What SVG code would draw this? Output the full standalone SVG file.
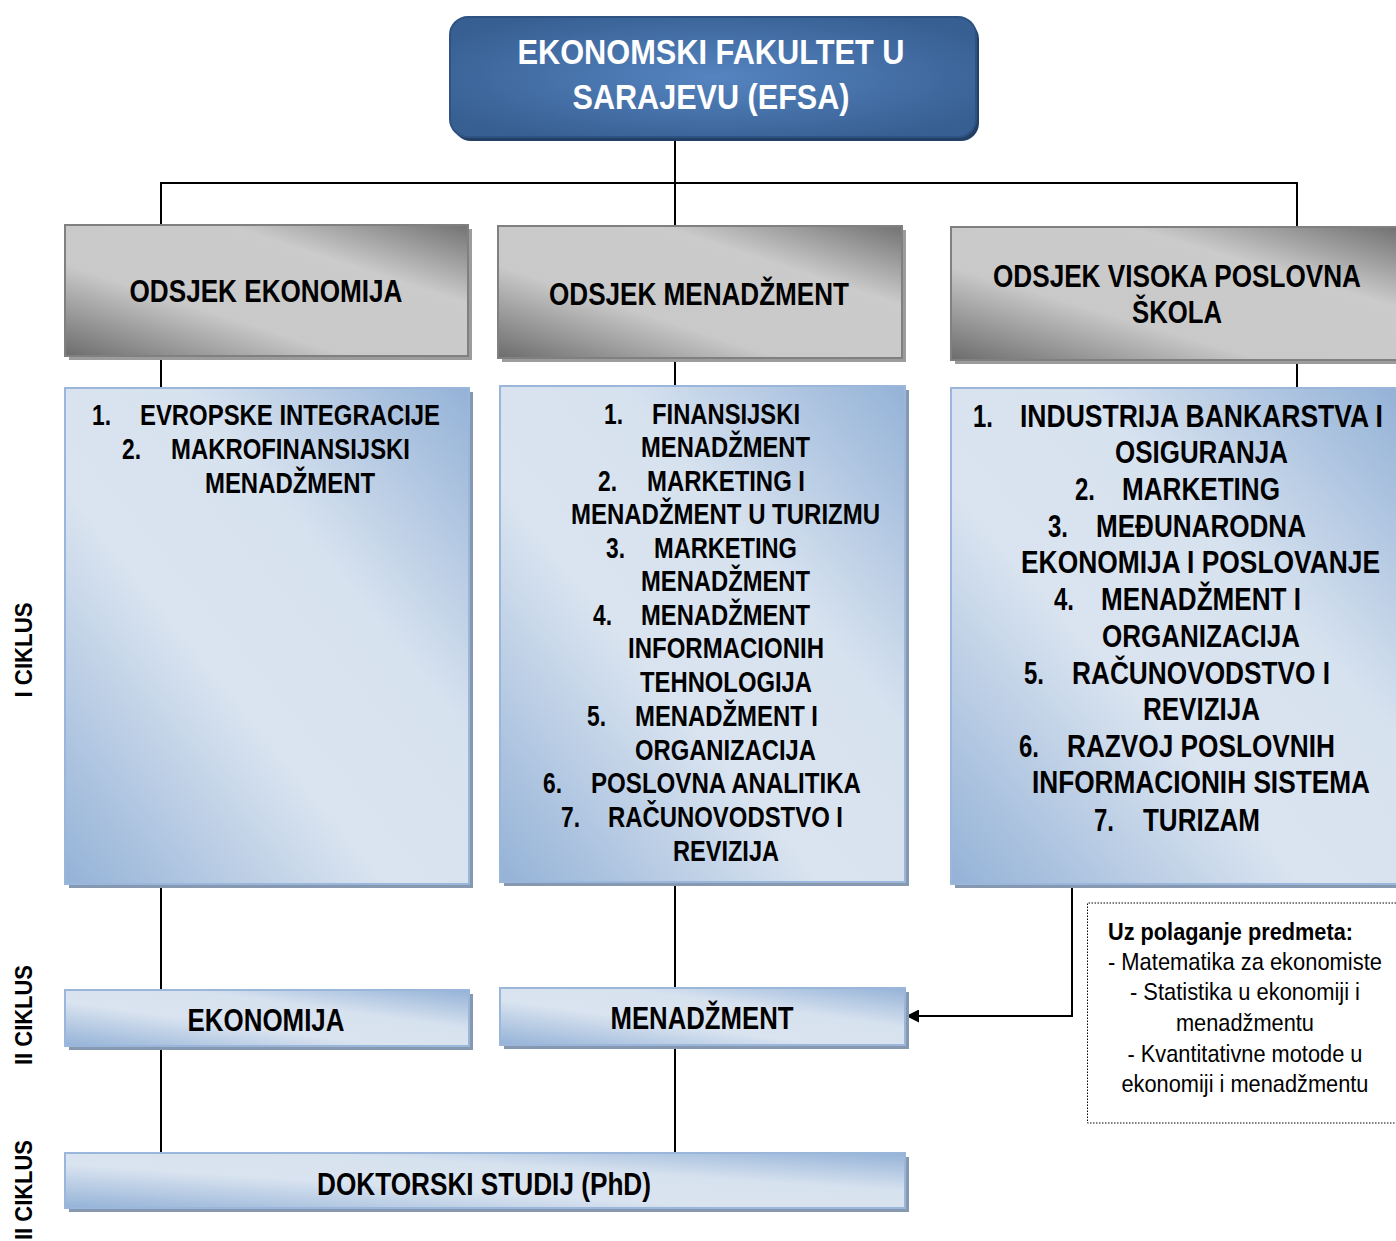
<svg xmlns="http://www.w3.org/2000/svg" width="1396" height="1241" viewBox="0 0 1396 1241">
<style>
.t{font-family:"Liberation Sans",Arial,sans-serif;font-weight:bold;fill:#000}
.w{fill:#fff}
.r{font-family:"Liberation Sans",Arial,sans-serif;font-weight:normal;fill:#000}
.gray{fill:url(#grayGrad);stroke:#808080;stroke-width:2}
.gsh{fill:#9c9c9c}
.blue{fill:url(#blueGrad);stroke:#9ab6da;stroke-width:2}
.bsh{fill:#8799b0}
.conn{stroke:#000;stroke-width:2;fill:none}
</style>
<defs>
<linearGradient id="grayGrad" x1="0" y1="1" x2="1" y2="0">
<stop offset="0" stop-color="#6c6c6c"/>
<stop offset="0.35" stop-color="#c9c9c9"/>
<stop offset="0.7" stop-color="#cbcbcb"/>
<stop offset="1" stop-color="#727272"/>
</linearGradient>
<linearGradient id="blueGrad" x1="0" y1="1" x2="1" y2="0">
<stop offset="0" stop-color="#94b2d7"/>
<stop offset="0.4" stop-color="#dae4f0"/>
<stop offset="0.65" stop-color="#d7e2ef"/>
<stop offset="1" stop-color="#94b2d7"/>
</linearGradient>
<radialGradient id="topGrad" cx="0.5" cy="0.5" r="0.6">
<stop offset="0" stop-color="#5584c0"/>
<stop offset="1" stop-color="#375f92"/>
</radialGradient>
<marker id="arr" viewBox="0 0 10 10" refX="10" refY="5" markerWidth="15" markerHeight="13" orient="auto" markerUnits="userSpaceOnUse">
<path d="M0,0 L10,5 L0,10 z" fill="#000"/>
</marker>
</defs>

<g id="connectors">
<line class="conn" x1="675" y1="137" x2="675" y2="183"/>
<line class="conn" x1="160" y1="183" x2="1298" y2="183"/>
<line class="conn" x1="161" y1="182" x2="161" y2="226"/>
<line class="conn" x1="675" y1="182" x2="675" y2="227"/>
<line class="conn" x1="1297" y1="182" x2="1297" y2="228"/>
<line class="conn" x1="161" y1="356" x2="161" y2="388"/>
<line class="conn" x1="675" y1="358" x2="675" y2="386"/>
<line class="conn" x1="1297" y1="360" x2="1297" y2="388"/>
<line class="conn" x1="161" y1="884" x2="161" y2="990"/>
<line class="conn" x1="675" y1="882" x2="675" y2="988"/>
<line class="conn" x1="161" y1="1046" x2="161" y2="1153"/>
<line class="conn" x1="675" y1="1045" x2="675" y2="1153"/>
<path class="conn" d="M1072,886 L1072,1016 L906,1016" marker-end="url(#arr)"/>
</g>

<g id="efsa">
<rect x="453" y="21" width="526" height="120" rx="18" fill="#233f66"/>
<rect x="450" y="17" width="526" height="120" rx="18" fill="url(#topGrad)" stroke="#2e5382" stroke-width="2"/>
<text class="t w" x="711" y="64" font-size="35" text-anchor="middle" textLength="387" lengthAdjust="spacingAndGlyphs">EKONOMSKI FAKULTET U</text>
<text class="t w" x="711" y="109" font-size="35" text-anchor="middle" textLength="277" lengthAdjust="spacingAndGlyphs">SARAJEVU (EFSA)</text>
</g>

<g id="odsjek-ekonomija">
<rect class="gsh" x="69" y="229" width="403" height="131"/>
<rect class="gray" x="65" y="225" width="403" height="131"/>
<text class="t" x="266" y="302" font-size="31" text-anchor="middle" textLength="273" lengthAdjust="spacingAndGlyphs">ODSJEK EKONOMIJA</text>
</g>

<g id="odsjek-menadzment">
<rect class="gsh" x="502" y="230" width="404" height="132"/>
<rect class="gray" x="498" y="226" width="404" height="132"/>
<text class="t" x="699" y="305" font-size="31" text-anchor="middle" textLength="300" lengthAdjust="spacingAndGlyphs">ODSJEK MENADŽMENT</text>
</g>

<g id="odsjek-vps">
<rect class="gsh" x="955" y="231" width="441" height="133"/>
<rect x="951" y="227" width="445" height="133" fill="url(#grayGrad)"/>
<path d="M1396,227 L951,227 L951,360 L1396,360" fill="none" stroke="#808080" stroke-width="2"/>
<g transform="scale(0.85,1)" class="t" font-size="31" text-anchor="middle">
<text x="1384.7" y="287" textLength="432.9" lengthAdjust="spacingAndGlyphs">ODSJEK VISOKA POSLOVNA</text>
<text x="1384.7" y="323" textLength="105.9" lengthAdjust="spacingAndGlyphs">ŠKOLA</text>
</g>
</g>

<g id="programi-ekonomija">
<rect class="bsh" x="69" y="392" width="404" height="496"/>
<rect class="blue" x="65" y="388" width="404" height="496"/>
<g class="t" font-size="29">
<text x="92" y="425" textLength="19" lengthAdjust="spacingAndGlyphs">1.</text>
<text x="140" y="425" textLength="300" lengthAdjust="spacingAndGlyphs">EVROPSKE INTEGRACIJE</text>
<text x="122" y="459" textLength="19" lengthAdjust="spacingAndGlyphs">2.</text>
<text x="171" y="459" textLength="239" lengthAdjust="spacingAndGlyphs">MAKROFINANSIJSKI</text>
<text x="205" y="493" textLength="170" lengthAdjust="spacingAndGlyphs">MENADŽMENT</text>
</g>
</g>

<g id="programi-menadzment">
<rect class="bsh" x="504" y="390" width="405" height="496"/>
<rect class="blue" x="500" y="386" width="405" height="496"/>
<g class="t" font-size="29">
<text x="604" y="424" textLength="19" lengthAdjust="spacingAndGlyphs">1.</text>
<text x="652" y="424" textLength="148" lengthAdjust="spacingAndGlyphs">FINANSIJSKI</text>
<text x="641" y="457" textLength="169" lengthAdjust="spacingAndGlyphs">MENADŽMENT</text>
<text x="598" y="491" textLength="19" lengthAdjust="spacingAndGlyphs">2.</text>
<text x="647" y="491" textLength="158" lengthAdjust="spacingAndGlyphs">MARKETING I</text>
<text x="571" y="524" textLength="309" lengthAdjust="spacingAndGlyphs">MENADŽMENT U TURIZMU</text>
<text x="606" y="558" textLength="19" lengthAdjust="spacingAndGlyphs">3.</text>
<text x="654" y="558" textLength="143" lengthAdjust="spacingAndGlyphs">MARKETING</text>
<text x="641" y="591" textLength="169" lengthAdjust="spacingAndGlyphs">MENADŽMENT</text>
<text x="593" y="625" textLength="19" lengthAdjust="spacingAndGlyphs">4.</text>
<text x="641" y="625" textLength="169" lengthAdjust="spacingAndGlyphs">MENADŽMENT</text>
<text x="628" y="658" textLength="196" lengthAdjust="spacingAndGlyphs">INFORMACIONIH</text>
<text x="640" y="692" textLength="172" lengthAdjust="spacingAndGlyphs">TEHNOLOGIJA</text>
<text x="587" y="726" textLength="19" lengthAdjust="spacingAndGlyphs">5.</text>
<text x="635" y="726" textLength="183" lengthAdjust="spacingAndGlyphs">MENADŽMENT I</text>
<text x="635" y="760" textLength="181" lengthAdjust="spacingAndGlyphs">ORGANIZACIJA</text>
<text x="543" y="793" textLength="19" lengthAdjust="spacingAndGlyphs">6.</text>
<text x="591" y="793" textLength="270" lengthAdjust="spacingAndGlyphs">POSLOVNA ANALITIKA</text>
<text x="561" y="827" textLength="19" lengthAdjust="spacingAndGlyphs">7.</text>
<text x="608" y="827" textLength="235" lengthAdjust="spacingAndGlyphs">RAČUNOVODSTVO I</text>
<text x="673" y="861" textLength="106" lengthAdjust="spacingAndGlyphs">REVIZIJA</text>
</g>
</g>

<g id="programi-vps">
<rect class="bsh" x="955" y="392" width="441" height="496"/>
<rect x="951" y="388" width="445" height="496" fill="url(#blueGrad)"/>
<path d="M1396,388 L951,388 L951,884 L1396,884" fill="none" stroke="#9ab6da" stroke-width="2"/>
<g class="t" font-size="31" transform="scale(0.85,1)">
<text x="1144.7" y="427" textLength="23.5" lengthAdjust="spacingAndGlyphs">1.</text>
<text x="1200" y="427" textLength="427" lengthAdjust="spacingAndGlyphs">INDUSTRIJA BANKARSTVA I</text>
<text x="1311.8" y="463" textLength="203.5" lengthAdjust="spacingAndGlyphs">OSIGURANJA</text>
<text x="1264.7" y="500" textLength="23.5" lengthAdjust="spacingAndGlyphs">2.</text>
<text x="1320" y="500" textLength="185.9" lengthAdjust="spacingAndGlyphs">MARKETING</text>
<text x="1232.9" y="537" textLength="23.5" lengthAdjust="spacingAndGlyphs">3.</text>
<text x="1289.4" y="537" textLength="247.1" lengthAdjust="spacingAndGlyphs">MEĐUNARODNA</text>
<text x="1201.2" y="573" textLength="422.4" lengthAdjust="spacingAndGlyphs">EKONOMIJA I POSLOVANJE</text>
<text x="1240" y="610" textLength="23.5" lengthAdjust="spacingAndGlyphs">4.</text>
<text x="1295.3" y="610" textLength="235.3" lengthAdjust="spacingAndGlyphs">MENADŽMENT I</text>
<text x="1296.5" y="647" textLength="232.9" lengthAdjust="spacingAndGlyphs">ORGANIZACIJA</text>
<text x="1204.7" y="684" textLength="23.5" lengthAdjust="spacingAndGlyphs">5.</text>
<text x="1261.2" y="684" textLength="303.5" lengthAdjust="spacingAndGlyphs">RAČUNOVODSTVO I</text>
<text x="1344.7" y="720" textLength="137.6" lengthAdjust="spacingAndGlyphs">REVIZIJA</text>
<text x="1198.8" y="757" textLength="23.5" lengthAdjust="spacingAndGlyphs">6.</text>
<text x="1255.3" y="757" textLength="315.3" lengthAdjust="spacingAndGlyphs">RAZVOJ POSLOVNIH</text>
<text x="1214.1" y="793" textLength="397.6" lengthAdjust="spacingAndGlyphs">INFORMACIONIH SISTEMA</text>
<text x="1287.1" y="831" textLength="23.5" lengthAdjust="spacingAndGlyphs">7.</text>
<text x="1344.7" y="831" textLength="137.6" lengthAdjust="spacingAndGlyphs">TURIZAM</text>
</g>
</g>

<g id="ii-ekonomija">
<rect class="bsh" x="69" y="994" width="404" height="56"/>
<rect class="blue" x="65" y="990" width="404" height="56"/>
<text class="t" x="266" y="1031" font-size="31" text-anchor="middle" textLength="157" lengthAdjust="spacingAndGlyphs">EKONOMIJA</text>
</g>

<g id="ii-menadzment">
<rect class="bsh" x="504" y="992" width="405" height="57"/>
<rect class="blue" x="500" y="988" width="405" height="57"/>
<text class="t" x="702" y="1029" font-size="31" text-anchor="middle" textLength="183" lengthAdjust="spacingAndGlyphs">MENADŽMENT</text>
</g>

<g id="doktorski">
<rect class="bsh" x="69" y="1157" width="840" height="55"/>
<rect class="blue" x="65" y="1153" width="840" height="55"/>
<text class="t" x="484" y="1195" font-size="31" text-anchor="middle" textLength="334" lengthAdjust="spacingAndGlyphs">DOKTORSKI STUDIJ (PhD)</text>
</g>

<g id="uslov">
<rect x="1087" y="903" width="308" height="220" fill="#fff"/>
<path d="M1396,903 L1087.5,903 L1087.5,1123 L1396,1123" fill="none" stroke="#000" stroke-width="1" stroke-dasharray="1.5,1.5"/>
<g transform="scale(0.9,1)">
<text class="t" x="1231.1" y="940" font-size="24" textLength="272.2" lengthAdjust="spacingAndGlyphs">Uz polaganje predmeta:</text>
<g class="r" font-size="24" text-anchor="middle">
<text x="1383.3" y="970" textLength="304.4" lengthAdjust="spacingAndGlyphs">- Matematika za ekonomiste</text>
<text x="1383.3" y="1000" textLength="255.6" lengthAdjust="spacingAndGlyphs">- Statistika u ekonomiji i</text>
<text x="1383.3" y="1031" textLength="153.3" lengthAdjust="spacingAndGlyphs">menadžmentu</text>
<text x="1383.3" y="1062" textLength="261.1" lengthAdjust="spacingAndGlyphs">- Kvantitativne motode u</text>
<text x="1383.3" y="1092" textLength="274.4" lengthAdjust="spacingAndGlyphs">ekonomiji i menadžmentu</text>
</g>
</g>
</g>

<g id="ciklusi" class="t" font-size="24" text-anchor="middle">
<text transform="translate(32,650) rotate(-90)" textLength="95" lengthAdjust="spacingAndGlyphs">I CIKLUS</text>
<text transform="translate(32,1015) rotate(-90)" textLength="100" lengthAdjust="spacingAndGlyphs">II CIKLUS</text>
<text transform="translate(32,1190) rotate(-90)" textLength="100" lengthAdjust="spacingAndGlyphs">II CIKLUS</text>
</g>
</svg>
